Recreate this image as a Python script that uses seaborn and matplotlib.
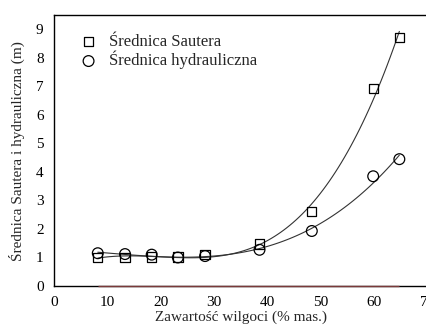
import numpy as np
import pandas as pd
import matplotlib
matplotlib.use("Agg")
import matplotlib.pyplot as plt
import seaborn as sns

# --- DATOS ---
wilgoc = [8.2, 13.3, 18.3, 23.2, 28.3, 38.5, 48.3, 59.8, 64.7]
sautera = [1.00, 1.00, 1.02, 1.02, 1.10, 1.47, 2.62, 6.93, 8.72]
hydrauliczna = [1.15, 1.12, 1.10, 1.00, 1.05, 1.27, 1.93, 3.85, 4.45]

x_ticks = [0, 10, 20, 30, 40, 50, 60, 70]
y_ticks = [0, 1, 2, 3, 4, 5, 6, 7, 8, 9]

df = pd.DataFrame({"x": wilgoc, "sautera": sautera, "hydr": hydrauliczna})

sns.set_style("white")
plt.rcParams["font.family"] = ["Liberation Serif", "DejaVu Serif"]

fig = plt.figure(figsize=(4.27, 3.29), dpi=100)
ax = fig.add_axes([0.1265, 0.1307, 0.875, 0.823])

# linie trendu (wielomian 3 stopnia)
for col in ["sautera", "hydr"]:
    sns.regplot(data=df, x="x", y=col, order=3, ci=None, scatter=False,
                truncate=True, ax=ax, line_kws={"color": "#333333", "lw": 0.8})

ax.hlines(0, min(wilgoc), max(wilgoc), color="#7a3a3a", lw=1.0, zorder=5, clip_on=False)

sns.scatterplot(data=df, x="x", y="sautera", marker="s", s=45, facecolor="none",
                edgecolor="black", linewidth=0.9, ax=ax, label="Średnica Sautera", zorder=6)
sns.scatterplot(data=df, x="x", y="hydr", marker="o", s=60, facecolor="none",
                edgecolor="black", linewidth=0.9, ax=ax, label="Średnica hydrauliczna", zorder=6)

ax.set_xlim(0, 70)
ax.set_ylim(0, 9.5)
ax.set_xticks(x_ticks)
ax.set_yticks(y_ticks)
ax.tick_params(direction="inout", length=9, width=1.0, labelsize=11, pad=3, colors="black")
for side in ["left", "bottom", "top"]:
    ax.spines[side].set_color("black")
    ax.spines[side].set_linewidth(1.0)
ax.spines["right"].set_visible(False)

ax.set_xlabel("Zawartość wilgoci (% mas.)", fontsize=11, labelpad=1)
ax.set_ylabel("Średnica Sautera i hydrauliczna (m)", fontsize=11, labelpad=8)

ax.legend(loc="upper left", bbox_to_anchor=(0.03, 0.955), frameon=False, fontsize=12,
          handletextpad=0.2, labelspacing=0.05, borderaxespad=0)

fig.savefig("out.png", dpi=100)
